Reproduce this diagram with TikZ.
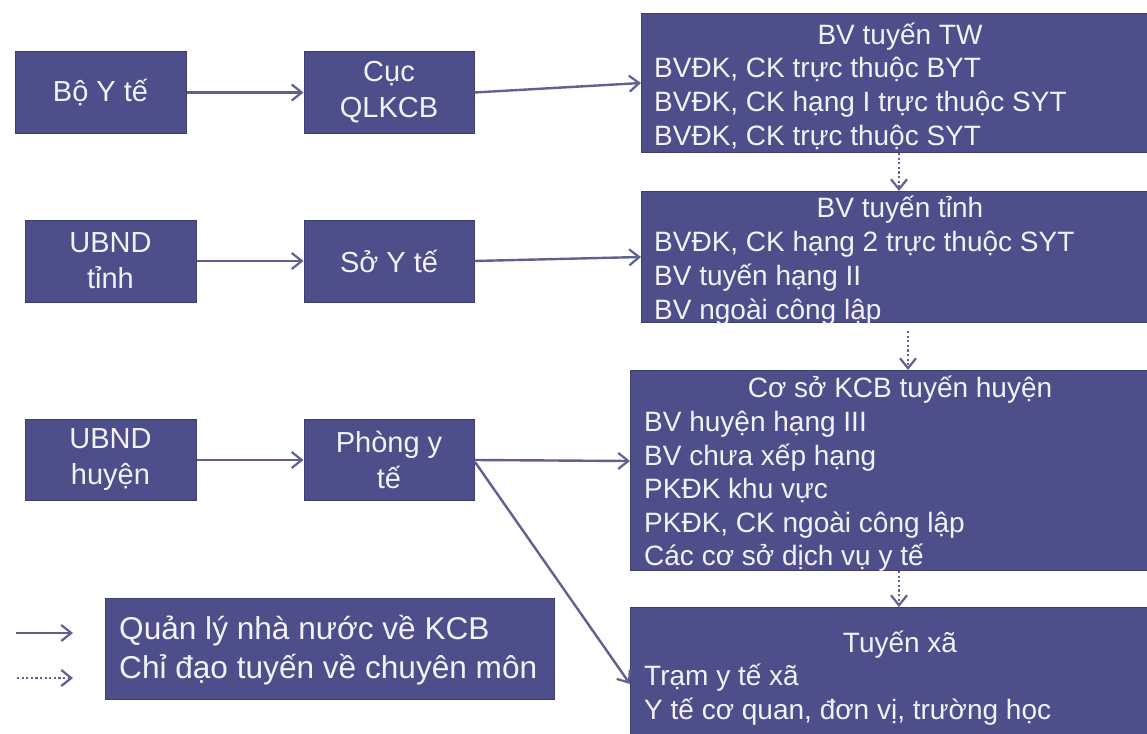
\documentclass[tikz,border=0pt]{standalone}
\usepackage{fontspec}
\setmainfont{Liberation Sans}
\usetikzlibrary{arrows.meta}
\definecolor{boxc}{RGB}{78,78,138}
\definecolor{edgec}{RGB}{62,62,112}
\definecolor{arrc}{RGB}{96,96,146}
\definecolor{txtc}{RGB}{242,242,248}
\tikzset{
  box/.style={fill=boxc, draw=edgec, line width=1pt, inner sep=0pt},
  smallbox/.style={box, text=txtc, align=center,
    font=\fontsize{29}{36}\selectfont},
  line/.style={text=txtc, font=\fontsize{28}{33.6}\selectfont, anchor=base west, inner sep=0pt},
  title/.style={text=txtc, font=\fontsize{28}{33.6}\selectfont, anchor=base, inner sep=0pt},
  legtext/.style={text=txtc, font=\fontsize{31.6}{39}\selectfont, anchor=base west, inner sep=0pt},
  arr/.style={draw=arrc, line width=2.4pt,
    -{Straight Barb[length=10pt,width=16pt,line width=2.2pt]}},
  darr/.style={arr, line width=2.6pt, dash pattern=on 2.2pt off 2.4pt}
}
\begin{document}
\begin{tikzpicture}[x=1pt,y=-1pt]
\useasboundingbox (0,0) rectangle (1147,733);
\fill[white] (0,0) rectangle (1147,733);

% left column boxes
\node[smallbox, minimum width=171pt, minimum height=81pt] (byt) at (100.5,92.5) {Bộ Y tế};
\node[smallbox, minimum width=171pt, minimum height=82pt] (ubt) at (110.5,261) {UBND\\tỉnh};
\node[smallbox, minimum width=171pt, minimum height=81pt] (ubh) at (110.5,460) {UBND\\huyện};

% middle column boxes
\node[smallbox, minimum width=170pt, minimum height=81pt] (cuc) at (389,92.5) {Cục\\QLKCB};
\node[smallbox, minimum width=170pt, minimum height=82pt] (so) at (389,261) {Sở Y tế};
\node[smallbox, minimum width=170pt, minimum height=81pt] (phong) at (389,460) {Phòng y\\tế};

% right column boxes
\node[box, minimum width=519pt, minimum height=139pt, anchor=north west] (tw) at (641,13) {};
\node[box, minimum width=519pt, minimum height=131pt, anchor=north west] (tinh) at (641,191) {};
\node[box, minimum width=530pt, minimum height=200pt, anchor=north west] (huyen) at (630,370) {};
\node[box, minimum width=530pt, minimum height=140pt, anchor=north west] (xa) at (630,607) {};

% TW box text
\node[title] (tw0) at (900,45) {BV tuyến TW};
\node[line] (tw1) at (654,77.5) {BVĐK, CK trực thuộc BYT};
\node[line] (tw2) at (654,111) {BVĐK, CK hạng I trực thuộc SYT};
\node[line] (tw3) at (654,145) {BVĐK, CK trực thuộc SYT};

% tinh box text
\node[title] (ti0) at (900,217) {BV tuyến tỉnh};
\node[line] (ti1) at (654,251) {BVĐK, CK hạng 2 trực thuộc SYT};
\node[line] (ti2) at (654,285) {BV tuyến hạng II};
\node[line] (ti3) at (654,319) {BV ngoài công lập};

% huyen box text
\node[title] (hu0) at (900,397) {Cơ sở KCB tuyến huyện};
\node[line] (hu1) at (644,431) {BV huyện hạng III};
\node[line] (hu2) at (644,465) {BV chưa xếp hạng};
\node[line] (hu3) at (644,498.5) {PKĐK khu vực};
\node[line] (hu4) at (644,532) {PKĐK, CK ngoài công lập};
\node[line] (hu5) at (644,565.5) {Các cơ sở dịch vụ y tế};

% xa box text
\node[title] (xa0) at (900,652) {Tuyến xã};
\node[line] (xa1) at (644,685.5) {Trạm y tế xã};
\node[line] (xa2) at (644,719) {Y tế cơ quan, đơn vị, trường học};

% legend
\node[box, minimum width=449pt, minimum height=101pt, anchor=north west] (leg) at (105,598) {};
\node[legtext] (lg1) at (119,639) {Quản lý nhà nước về KCB};
\node[legtext] (lg2) at (119,678) {Chỉ đạo tuyến về chuyên môn};
\coordinate (ls1) at (16,633);
\coordinate (le1) at (73,633);
\coordinate (ls2) at (17,678);
\coordinate (le2) at (73,678);
\draw[arr] (ls1) -- (le1);
\draw[darr] (ls2) -- (le2);

% connectors: state management
\draw[arr] (byt.east) -- (cuc.west);
\draw[arr] (ubt.east) -- (so.west);
\draw[arr] (ubh.east) -- (phong.west);
\draw[arr] (cuc.east) -- (tw.west |- 0,83);
\draw[arr] (so.east) -- (tinh.west |- 0,257);
\draw[arr] (phong.east) -- (huyen.west |- 0,461);
\coordinate (pstart) at (475,462);
\draw[arr] (pstart) -- (xa.west |- 0,684);

% connectors: professional guidance
\draw[darr] (tw.south -| 899,0) -- (tinh.north -| 899,0);
\coordinate (d2s) at (908,331);
\draw[darr] (d2s) -- (huyen.north -| 908,0);
\draw[darr] (huyen.south -| 899,0) -- (xa.north -| 899,0);
\end{tikzpicture}
\end{document}
